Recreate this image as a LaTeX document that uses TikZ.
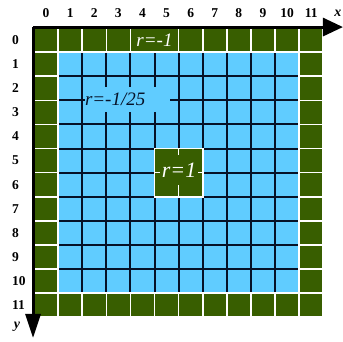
\documentclass[tikz,border=0pt]{standalone}
\usepackage{fontspec}
\setmainfont{Liberation Serif}
\usetikzlibrary{arrows.meta}
\definecolor{grn}{RGB}{56,94,0}
\definecolor{sky}{RGB}{96,204,255}
\definecolor{ink}{RGB}{6,18,40}
\tikzset{
  gline/.style={ink, line width=2pt},
  wline/.style={white, line width=1.6pt},
  axis/.style={line width=3pt},
  num/.style={font=\fontsize{13.5}{13.5}\selectfont\bfseries, inner sep=0pt},
  rlab/.style={font=\fontsize{19}{19}\selectfont\itshape, inner sep=0pt}
}
\begin{document}
\begin{tikzpicture}[x=24.1pt,y=-24.1pt]
\useasboundingbox (-1.411,-1.162) rectangle (12.822,13.029);
\fill[grn] (0,0) rectangle (12,12);
\fill[sky] (1,1) rectangle (11,11);
\foreach \i in {2,...,10} {
  \draw[gline] (\i,1) -- (\i,11);
  \draw[gline] (1,\i) -- (11,\i);
}
\fill[grn] (5,5) rectangle (7,7);
\draw[wline] (0,0) rectangle (12,12);
\draw[wline] (1,1) rectangle (11,11);
\foreach \i in {1,...,11} {
  \draw[wline] (\i,0) -- (\i,1);
  \draw[wline] (\i,11) -- (\i,12);
  \draw[wline] (0,\i) -- (1,\i);
  \draw[wline] (11,\i) -- (12,\i);
}
\draw[wline] (5,5) rectangle (7,7);
\draw[wline] (6,5) -- (6,7);
\draw[wline] (5,6) -- (7,6);
\node[rlab, fill=grn, text=white, minimum width=46pt, minimum height=22pt] (rborder) at (5,0.5) {r=-1};
\node[rlab, fill=sky, text=ink, text width=85pt, minimum height=25pt, align=left] (rinner) at (3.88,2.97) {r=-1/25};
\node[rlab, fill=grn, text=white, minimum width=38pt, minimum height=30pt, font=\fontsize{22}{22}\selectfont\itshape] (rcenter) at (6.02,5.89) {r=1};
\foreach \i in {0,...,11} {
  \node[num] (col\i) at (\i+0.5,-0.62) {\i};
  \node[num, anchor=west] (row\i) at (-0.913,\i+0.5) {\i};
}
\node[num, font=\fontsize{14}{14}\selectfont\bfseries\itshape] (xlab) at (12.61,-0.62) {x};
\node[num, font=\fontsize{14}{14}\selectfont\bfseries\itshape] (ylab) at (-0.71,12.41) {y};
\coordinate (orig) at (-0.04,-0.04);
\coordinate (xtip) at (12.82,-0.04);
\coordinate (ytip) at (-0.04,12.86);
\draw[axis, -{Triangle[length=20pt,width=18pt]}] (orig) -- (xtip);
\draw[axis, -{Triangle[length=24pt,width=15pt]}] (orig) -- (ytip);
\end{tikzpicture}
\end{document}
